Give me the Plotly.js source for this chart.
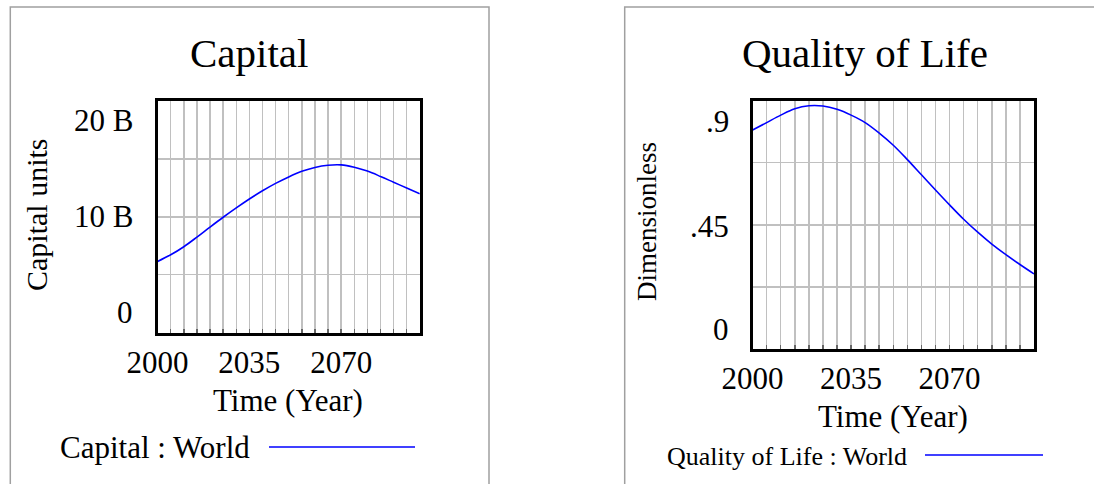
<!DOCTYPE html>
<html>
<head>
<meta charset="utf-8">
<script src="https://cdn.plot.ly/plotly-3.0.1.min.js"></script>
<style>html,body{margin:0;padding:0;background:#fff;}#chart{width:1094px;height:484px;}</style>
</head>
<body>
<div id="chart"></div>
<script>
// ---- data ----
const years = [2000, 2005, 2010, 2015, 2020, 2025, 2030, 2035, 2040, 2045, 2050,
               2055, 2060, 2065, 2070, 2075, 2080, 2085, 2090, 2095, 2100];
const capitalWorld = [6.15e9, 6.72e9, 7.42e9, 8.25e9, 9.12e9, 9.97e9, 10.78e9, 11.55e9, 12.26e9, 12.9e9, 13.46e9,
                      13.94e9, 14.28e9, 14.47e9, 14.5e9, 14.3e9, 13.96e9, 13.5e9, 13.0e9, 12.5e9, 12.0e9];
const qualityOfLifeWorld = [0.793, 0.820, 0.847, 0.870, 0.881, 0.880, 0.868, 0.847, 0.820, 0.782, 0.738,
                            0.686, 0.631, 0.576, 0.522, 0.470, 0.423, 0.380, 0.342, 0.306, 0.272];
const xTickVals = [2000, 2035, 2070];
const xTickText = ['2000', '2035', '2070'];
const capTickVals = [0, 1e10, 2e10];
const capTickText = ['0', '10 B', '20 B'];
const qolTickVals = [0, 0.45, 0.9];
const qolTickText = ['0', '.45', '.9'];
const titles = ['Capital', 'Quality of Life'];
const yTitles = ['Capital units', 'Dimensionless'];
const xTitle = 'Time (Year)';
const legendNames = ['Capital : World', 'Quality of Life : World'];

// ---- layout helpers ----
const W = 1094, H = 484;
const px = v => v / W;
const py = v => 1 - v / H;
const FONT = 'Liberation Serif, Times New Roman, serif';
const GRID = 'rgb(192,192,192)';
const BLUE = '#0000ff';

function xAxis(domain) {
  return {
    domain: domain, range: [2000, 2100], tickmode: 'array', tickvals: xTickVals, ticktext: xTickText,
    showgrid: true, gridcolor: GRID, gridwidth: 1.5, zeroline: false,
    ticks: 'inside', ticklen: 4, tickwidth: 1.5, tickcolor: '#666',
    showline: true, linecolor: '#000', linewidth: 3, mirror: true,
    tickfont: {family: FONT, size: 31, color: '#000'},
    minor: {tickmode: 'linear', tick0: 2000, dtick: 5, showgrid: true, gridcolor: GRID, gridwidth: 1.5,
            ticks: 'inside', ticklen: 4, tickwidth: 1.5, tickcolor: '#666'},
    fixedrange: true
  };
}
function yAxis(domain, range, vals, dtick, anchor) {
  return {
    domain: domain, range: range, anchor: anchor, tickmode: 'array', tickvals: vals, showticklabels: false,
    showgrid: true, gridcolor: GRID, gridwidth: 1.5, zeroline: false, ticks: '',
    showline: true, linecolor: '#000', linewidth: 3, mirror: true,
    minor: {tickmode: 'linear', tick0: 0, dtick: dtick, showgrid: true, gridcolor: GRID, gridwidth: 1.5, ticks: ''},
    fixedrange: true
  };
}

const traces = [
  {x: years, y: capitalWorld, type: 'scatter', mode: 'lines', name: legendNames[0],
   line: {color: BLUE, width: 1.6, shape: 'spline'}, xaxis: 'x', yaxis: 'y'},
  {x: years, y: qualityOfLifeWorld, type: 'scatter', mode: 'lines', name: legendNames[1],
   line: {color: BLUE, width: 1.6, shape: 'spline'}, xaxis: 'x2', yaxis: 'y2'}
];

const annotations = [];
function txt(text, x, y, size, opts) {
  annotations.push(Object.assign({text: text, x: x, y: y, xref: 'paper', yref: 'paper', showarrow: false,
    font: {family: FONT, size: size, color: '#000'}, xanchor: 'center', yanchor: 'middle'}, opts || {}));
}
// titles
txt(titles[0], px(249), py(53), 41);
txt(titles[1], px(865), py(53), 41);
// y axis titles
txt(yTitles[0], px(36), py(215), 30, {textangle: -90});
txt(yTitles[1], px(647), py(222), 27, {textangle: -90});
// x axis titles
txt(xTitle, px(288), py(400), 31);
txt(xTitle, px(893), py(416), 31);
// y tick labels (placed through the y scales, nudged inward as in the reference)
const capShift = [20, 0, -19];
capTickVals.forEach((v, i) => txt(capTickText[i], px(135), v, 31,
  {yref: 'y', xanchor: 'right', yshift: capShift[i]}));
const qolShift = [20, -2, -21];
qolTickVals.forEach((v, i) => txt(qolTickText[i], px(731), v, 31,
  {yref: 'y2', xanchor: 'right', yshift: qolShift[i]}));
// legend texts
txt(legendNames[0], px(58), py(447), 31, {xanchor: 'left'});
txt(legendNames[1], px(665), py(456), 26, {xanchor: 'left'});

const shapes = [
  // panel boxes
  {type: 'rect', xref: 'paper', yref: 'paper', x0: px(10.3), x1: px(489), y0: -0.2, y1: py(7),
   line: {color: '#a0a0a0', width: 1.5}, layer: 'below'},
  {type: 'rect', xref: 'paper', yref: 'paper', x0: px(624.7), x1: 1.2, y0: -0.2, y1: py(7),
   line: {color: '#a0a0a0', width: 1.5}, layer: 'below'},
  // legend swatches
  {type: 'line', xref: 'paper', yref: 'paper', x0: px(269), x1: px(415), y0: py(447), y1: py(447),
   line: {color: BLUE, width: 1.6}},
  {type: 'line', xref: 'paper', yref: 'paper', x0: px(925), x1: px(1043), y0: py(455), y1: py(455),
   line: {color: BLUE, width: 1.6}}
];

const layout = {
  width: W, height: H, margin: {l: 0, r: 0, t: 0, b: 0},
  paper_bgcolor: '#fff', plot_bgcolor: '#fff', showlegend: false,
  font: {family: FONT, color: '#000'},
  xaxis: xAxis([px(157.6), px(419.8)]),
  yaxis: yAxis([py(332.5), py(101.3)], [0, 2e10], capTickVals, 5e9, 'x'),
  xaxis2: Object.assign(xAxis([px(752.6), px(1034)]), {anchor: 'y2'}),
  yaxis2: yAxis([py(349), py(100.5)], [0, 0.9], qolTickVals, 0.225, 'x2'),
  annotations: annotations,
  shapes: shapes
};
layout.xaxis.anchor = 'y';

Plotly.newPlot('chart', traces, layout, {staticPlot: true, displayModeBar: false});
</script>
</body>
</html>
